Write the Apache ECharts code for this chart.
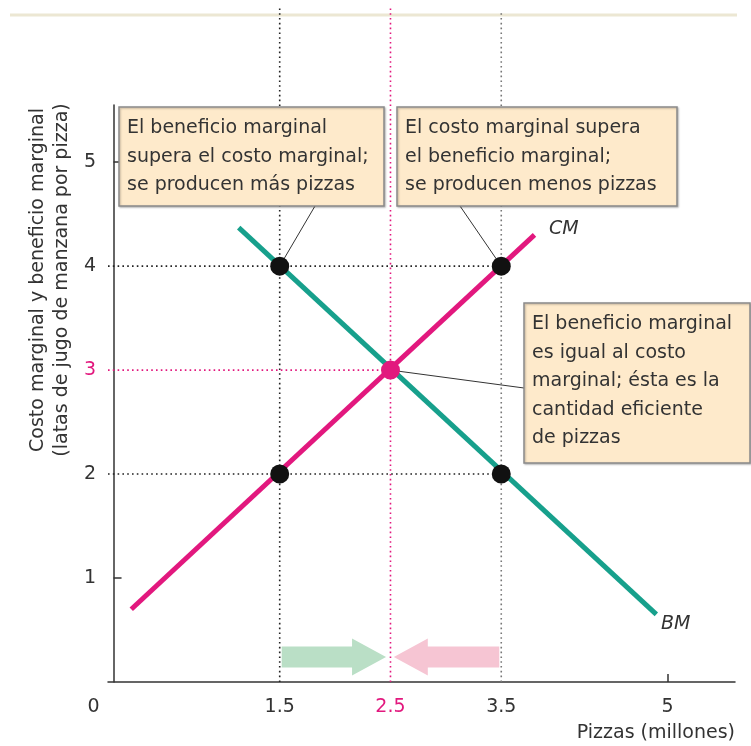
<!DOCTYPE html>
<html><head><meta charset="utf-8">
<script src="https://cdn.jsdelivr.net/npm/echarts@6/dist/echarts.min.js"></script>
<style>html,body{margin:0;padding:0;background:#fff}#c{width:751px;height:746px}</style>
</head><body><div id="c"></div>
<script>
// ---- data ----
const xTickValues = [0, 1.5, 2.5, 3.5, 5];
const yTickValues = [1, 2, 3, 4, 5];
const cmLine = [[0.16, 0.7], [3.8, 4.3]];      // Costo marginal (CM)
const bmLine = [[1.13, 4.37], [4.9, 0.65]];    // Beneficio marginal (BM)
const blackPoints = [[1.5, 4], [1.5, 2], [3.5, 4], [3.5, 2]];
const equilibrium = [2.5, 3];
const arrowFrom = [1.5, 3.5];
const arrowTo = [2.46, 2.53];
const arrowLevel = 0.24;
const guideTop = 6.48;
const yAxisMax = 5.55;
const xAxisMin = -0.05, xAxisMax = 5.61;
const boxTexts = [
  'El beneficio marginal\nsupera el costo marginal;\nse producen más pizzas',
  'El costo marginal supera\nel beneficio marginal;\nse producen menos pizzas',
  'El beneficio marginal\nes igual al costo\nmarginal; ésta es la\ncantidad eficiente\nde pizzas'
];

const PINK = '#E2187E', TEAL = '#17A08C', TXT = '#333';
const FONT = '"DejaVu Sans", sans-serif';

const chart = echarts.init(document.getElementById('c'));

function dotted(data, color) {
  return { type: 'line', data, clip: false, symbol: 'none', silent: true, z: 1,
    lineStyle: { color, width: 1.6, type: [1.6, 3.2] } };
}

const option = {
  animation: false,
  grid: { left: 108, top: 105, right: 16, bottom: 64 },
  xAxis: {
    type: 'value', min: xAxisMin, max: xAxisMax,
    splitLine: { show: false },
    axisLine: { lineStyle: { color: '#333', width: 1.5 } },
    axisTick: { show: true, inside: true, length: 8, customValues: [5], lineStyle: { color: '#333', width: 1.5 } },
    axisLabel: {
      customValues: xTickValues, margin: 16, fontSize: 19, fontFamily: FONT, color: TXT,
      formatter: v => v === 0 ? '{z|0}' : (v === 2.5 ? '{p|2.5}' : String(v)),
      rich: { z: { padding: [0, 40, 0, 0], fontSize: 19, fontFamily: FONT, color: TXT },
              p: { fontSize: 19, fontFamily: FONT, color: PINK } }
    }
  },
  yAxis: {
    type: 'value', min: 0, max: yAxisMax,
    splitLine: { show: false },
    axisLine: { show: true, lineStyle: { color: '#333', width: 1.5 } },
    axisTick: { show: true, inside: true, length: 8, customValues: [1, 5], lineStyle: { color: '#333', width: 1.5 } },
    axisLabel: {
      customValues: yTickValues, margin: 12, fontSize: 19, fontFamily: FONT, color: TXT,
      formatter: v => v === 3 ? '{p|3}' : String(v),
      rich: { p: { fontSize: 19, fontFamily: FONT, color: PINK } }
    }
  },
  series: [
    dotted([[1.5, 0], [1.5, guideTop]], '#222'),
    dotted([[3.5, 0], [3.5, guideTop - 0.04]], '#777'),
    dotted([[2.5, 0], [2.5, guideTop]], PINK),
    dotted([[xAxisMin, 4], [3.5, 4]], '#222'),
    dotted([[xAxisMin, 2], [3.5, 2]], '#222'),
    dotted([[xAxisMin, 3], [2.5, 3]], PINK),
    {
      type: 'custom', z: 2, silent: true,
      data: arrowFrom.map((f, i) => [f, arrowTo[i], arrowLevel, i]),
      renderItem: (params, api) => {
        const a = api.coord([api.value(0), api.value(2)]);
        const b = api.coord([api.value(1), api.value(2)]);
        const dir = b[0] > a[0] ? 1 : -1;
        const hb = 10.5, hh = 18.5, hl = 34;
        const x0 = a[0] + dir * 2, xt = b[0], xh = xt - dir * hl, y = a[1];
        return { type: 'polygon', shape: { points: [
          [x0, y - hb], [xh, y - hb], [xh, y - hh], [xt, y], [xh, y + hh], [xh, y + hb], [x0, y + hb]] },
          style: { fill: api.value(3) === 0 ? '#BADFC6' : '#F6C5D3' } };
      }
    },
    { type: 'line', data: bmLine, symbol: 'none', z: 3, lineStyle: { color: TEAL, width: 5 } },
    { type: 'line', data: cmLine, symbol: 'none', z: 4, lineStyle: { color: PINK, width: 5 } },
    { type: 'scatter', data: blackPoints, symbolSize: 19, z: 5, itemStyle: { color: '#111', opacity: 1 } },
    { type: 'scatter', data: [equilibrium], symbolSize: 19, z: 5, itemStyle: { color: PINK, opacity: 1 } }
  ]
};
chart.setOption(option);

const P = (x, y) => chart.convertToPixel({ gridIndex: 0 }, [x, y]);
const boxes = [
  { x: 119, y: 107, w: 265, h: 99, text: boxTexts[0] },
  { x: 397, y: 107, w: 280, h: 99, text: boxTexts[1] },
  { x: 524, y: 303, w: 226, h: 160, text: boxTexts[2] }
];
const g = [
  { type: 'line', z: 0, shape: { x1: 10, y1: 15, x2: 737, y2: 15 }, style: { stroke: '#ECE7D3', lineWidth: 3 } }
];
const leaders = [
  [[315, 206], P(1.5, 4)],
  [[460, 206], P(3.5, 4)],
  [[524, 388], P(2.5, 3)]
];
leaders.forEach(([a, b]) => g.push({ type: 'line', z: 1, shape: { x1: a[0], y1: a[1], x2: b[0], y2: b[1] },
  style: { stroke: '#333', lineWidth: 1 } }));
boxes.forEach(b => {
  g.push({ type: 'rect', z: 10, shape: { x: b.x, y: b.y, width: b.w, height: b.h },
    style: { fill: '#FEEACB', stroke: '#8A8A8A', lineWidth: 1.5, shadowColor: 'rgba(0,0,0,0.25)', shadowBlur: 2, shadowOffsetX: 1, shadowOffsetY: 1 } });
  g.push({ type: 'text', z: 11, x: b.x + 8, y: b.y + 7,
    style: { text: b.text, font: '19px ' + FONT, fill: TXT, lineHeight: 28.5, textVerticalAlign: 'top' } });
});
g.push({ type: 'text', z: 11, x: 549, y: 220, style: { text: 'CM', font: 'italic 19px ' + FONT, fill: TXT } });
g.push({ type: 'text', z: 11, x: 661, y: 615, style: { text: 'BM', font: 'italic 19px ' + FONT, fill: TXT } });
g.push({ type: 'text', z: 11, x: 735, y: 724, style: { text: 'Pizzas (millones)', font: '19px ' + FONT, fill: TXT, textAlign: 'right' } });
g.push({ type: 'text', z: 11, x: 50, y: 280, rotation: Math.PI / 2,
  style: { text: 'Costo marginal y beneficio marginal\n(latas de jugo de manzana por pizza)', font: '19px ' + FONT,
    fill: TXT, textAlign: 'center', textVerticalAlign: 'middle', lineHeight: 24 } });
chart.setOption({ graphic: g });
</script></body></html>
